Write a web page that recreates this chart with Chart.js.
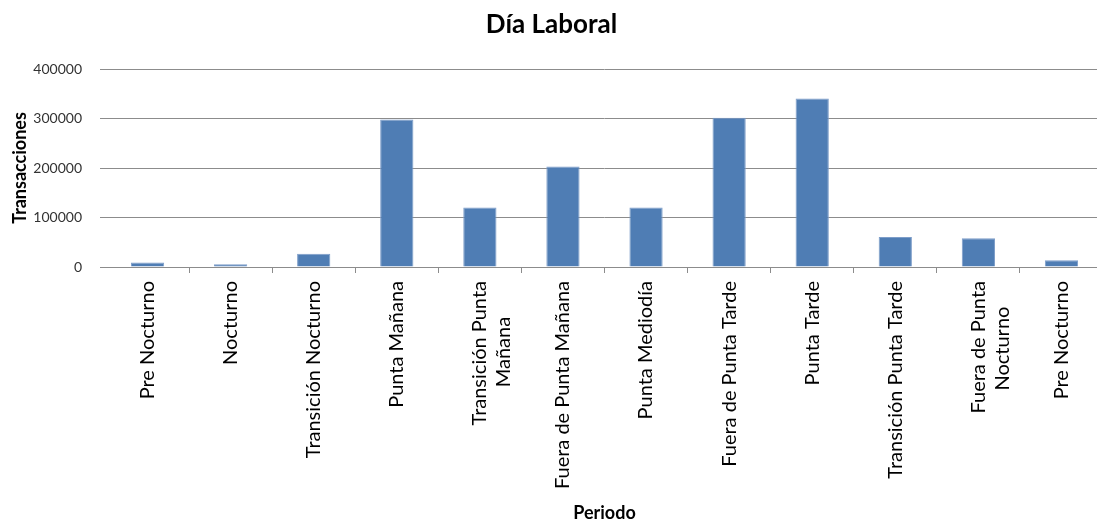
<!DOCTYPE html>
<html lang="es">
<head>
<meta charset="utf-8">
<title>Día Laboral</title>
<script src="https://cdn.jsdelivr.net/npm/chart.js@4.4.1/dist/chart.umd.min.js"></script>
<style>
  html, body { margin: 0; padding: 0; background: #ffffff; overflow: hidden; }
  #wrap { width: 1103px; height: 522px; }
</style>
</head>
<body>
<div id="wrap"><canvas id="chart" width="1103" height="522"></canvas></div>
<script>
// Periods of the working day, in order
const categories = [
  'Pre Nocturno',
  'Nocturno',
  'Transición Nocturno',
  'Punta Mañana',
  ['Transición Punta', 'Mañana'],
  'Fuera de Punta Mañana',
  'Punta Mediodía',
  'Fuera de Punta Tarde',
  'Punta Tarde',
  'Transición Punta Tarde',
  ['Fuera de Punta', 'Nocturno'],
  'Pre Nocturno'
];

// Transactions per period
const transacciones = [9000, 5500, 27000, 298000, 120000, 203000, 120000, 301500, 340500, 60500, 58000, 13500];

// Value axis ticks
const yTicks = [0, 100000, 200000, 300000, 400000];

const FONT = 'Lato, "Open Sans", "DejaVu Sans", sans-serif';
const LABEL_SIZE = 20;
const GRID = '#8c8c8c';

// Pad the shorter lines of a two-line label so the lines sit centred on each other
const measureCtx = document.createElement('canvas').getContext('2d');
function centerLines(label) {
  if (!Array.isArray(label)) return label;
  measureCtx.font = LABEL_SIZE + 'px ' + FONT;
  const widths = label.map(l => measureCtx.measureText(l).width);
  const widest = Math.max(...widths);
  const space = measureCtx.measureText(' ').width;
  return label.map((l, i) => l + ' '.repeat(Math.round((widest - widths[i]) / 2 / space)));
}

new Chart(document.getElementById('chart'), {
  type: 'bar',
  data: {
    labels: categories,
    datasets: [{
      label: 'Transacciones',
      data: transacciones,
      backgroundColor: '#4F7DB4',
      borderColor: '#7d9dc9',
      borderWidth: 1,
      categoryPercentage: 1,
      barPercentage: 0.4
    }]
  },
  options: {
    responsive: false,
    devicePixelRatio: 1,
    animation: false,
    layout: { padding: 0 },
    plugins: {
      legend: { display: false },
      tooltip: { enabled: false },
      title: {
        display: true,
        text: 'Día Laboral',
        color: '#000000',
        font: { family: FONT, size: 26, weight: 'bold', lineHeight: 1.2 },
        padding: { top: 9, bottom: 28.8 }
      }
    },
    scales: {
      x: {
        offset: true,
        grid: {
          display: true,
          offset: true,
          drawOnChartArea: false,
          drawTicks: true,
          tickLength: 6,
          color: ctx => (ctx.index === 0 ? 'rgba(0,0,0,0)' : GRID)
        },
        border: { display: true, color: GRID, width: 1 },
        ticks: {
          autoSkip: false,
          minRotation: 90,
          maxRotation: 90,
          padding: 8,
          color: '#000000',
          font: { family: FONT, size: LABEL_SIZE },
          callback: function (value, index) { return centerLines(categories[index]); }
        },
        title: {
          display: true,
          text: 'Periodo',
          color: '#000000',
          font: { family: FONT, size: 18, weight: 'bold', lineHeight: 1 },
          padding: 0
        },
        afterFit: scale => { scale.height = 255; }
      },
      y: {
        min: yTicks[0],
        max: yTicks[yTicks.length - 1],
        afterBuildTicks: scale => { scale.ticks = yTicks.map(v => ({ value: v })); },
        grid: {
          color: GRID,
          lineWidth: 1,
          drawTicks: true,
          tickLength: 6
        },
        border: { display: false },
        ticks: {
          padding: 18,
          color: '#333333',
          font: { family: FONT, size: 14 },
          callback: v => String(v)
        },
        title: {
          display: true,
          text: 'Transacciones',
          color: '#000000',
          font: { family: FONT, size: 18, weight: 'bold', lineHeight: 1 },
          padding: { top: 11, bottom: 0 }
        },
        afterFit: scale => { scale.width = 106; }
      }
    }
  }
});
</script>
</body>
</html>
